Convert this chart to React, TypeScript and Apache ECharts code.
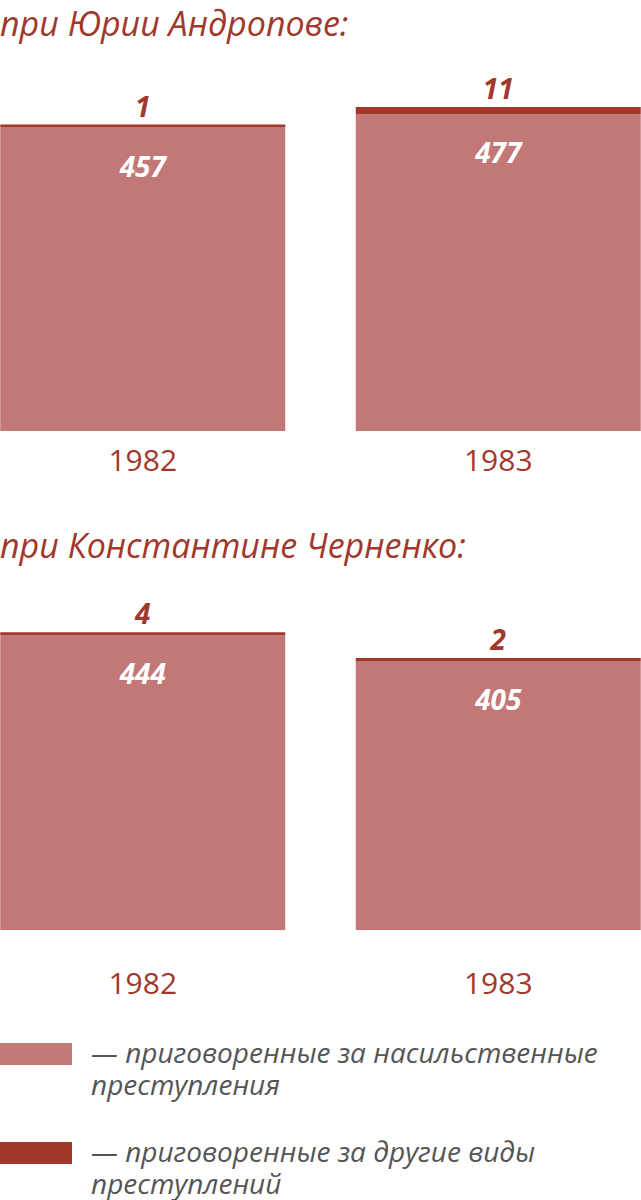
import * as echarts from "echarts";
import { useEffect, useRef } from "react";

const years = ["1982", "1983"];
const andropovViolent = [457, 477];
const andropovOther = [1, 11];
const chernenkoViolent = [444, 405];
const chernenkoOther = [4, 2];
const panelTitles = ["при Юрии Андропове:", "при Константине Черненко:"];
const legendLabels = [
  "— приговоренные за насильственные\nпреступления",
  "— приговоренные за другие виды\nпреступлений",
];

const LIGHT = "#c27877";
const DARK = "#a2372b";
const FONT = "'Open Sans', sans-serif";
// chart canvas is wider than the page so the bars can sit flush with both edges
const SHIFT = 35;

const App: React.FC = () => {
  const chartRef = useRef<HTMLDivElement>(null);

  useEffect(() => {
    if (!chartRef.current) return;
    const chart = echarts.init(chartRef.current, undefined, { renderer: "svg" });

    const grid = (bottom: number) => ({
      left: 0,
      right: 0,
      bottom,
      height: 332,
    });

    const xAxis = (gridIndex: number, margin: number) => ({
      type: "category",
      gridIndex,
      data: years,
      axisLine: { show: false },
      axisTick: { show: false },
      axisLabel: {
        margin,
        color: DARK,
        fontSize: 30,
        fontFamily: FONT,
      },
    });

    const yAxis = (gridIndex: number) => ({
      type: "value",
      gridIndex,
      min: 0,
      max: 500,
      show: false,
      splitLine: { show: false },
    });

    const violent = (idx: number, data: number[]) => ({
      type: "bar",
      name: "violent" + idx,
      xAxisIndex: idx,
      yAxisIndex: idx,
      stack: "s" + idx,
      data,
      barWidth: 285,
      itemStyle: { color: LIGHT },
      label: {
        show: true,
        position: "insideTop",
        distance: 24,
        color: "#fff",
        fontSize: 28,
        fontWeight: "bold",
        fontStyle: "italic",
        fontFamily: FONT,
      },
    });

    const other = (idx: number, data: number[]) => ({
      type: "bar",
      name: "other" + idx,
      xAxisIndex: idx,
      yAxisIndex: idx,
      stack: "s" + idx,
      data,
      barWidth: 285,
      barMinHeight: 3,
      itemStyle: { color: DARK },
      label: {
        show: true,
        position: "top",
        distance: 5,
        color: DARK,
        fontSize: 28,
        fontWeight: "bold",
        fontStyle: "italic",
        fontFamily: FONT,
      },
    });

    const titleText = (text: string, y: number) => ({
      type: "text",
      x: SHIFT,
      y,
      style: {
        text,
        fill: DARK,
        fontSize: 34,
        fontStyle: "italic",
        fontFamily: FONT,
        verticalAlign: "top",
      },
    });

    const legendItem = (i: number, y: number) => [
      {
        type: "rect",
        shape: { x: SHIFT, y, width: 72, height: 22 },
        style: { fill: i === 0 ? LIGHT : DARK },
      },
      {
        type: "text",
        x: SHIFT + 91,
        y: y - 7,
        style: {
          text: legendLabels[i],
          fill: "#555",
          fontSize: 28,
          lineHeight: 32,
          fontStyle: "italic",
          fontFamily: FONT,
          verticalAlign: "top",
        },
      },
    ];

    chart.setOption({
      animation: false,
      backgroundColor: "#fff",
      grid: [grid(1200 - 431), grid(1200 - 930)],
      xAxis: [xAxis(0, 13), xAxis(1, 37)],
      yAxis: [yAxis(0), yAxis(1)],
      series: [
        violent(0, andropovViolent),
        other(0, andropovOther),
        violent(1, chernenkoViolent),
        other(1, chernenkoOther),
      ],
      graphic: [
        titleText(panelTitles[0], 6),
        titleText(panelTitles[1], 528),
        ...legendItem(0, 1043),
        ...legendItem(1, 1142),
      ],
    });

    return () => {
      chart.dispose();
    };
  }, []);

  return (
    <div
      style={{
        position: "absolute",
        left: 0,
        top: 0,
        width: 641,
        height: 1200,
        overflow: "hidden",
      }}
    >
      <div
        ref={chartRef}
        style={{ position: "absolute", left: -SHIFT, top: 0, width: 711, height: 1200 }}
      />
    </div>
  );
};

export default App;
